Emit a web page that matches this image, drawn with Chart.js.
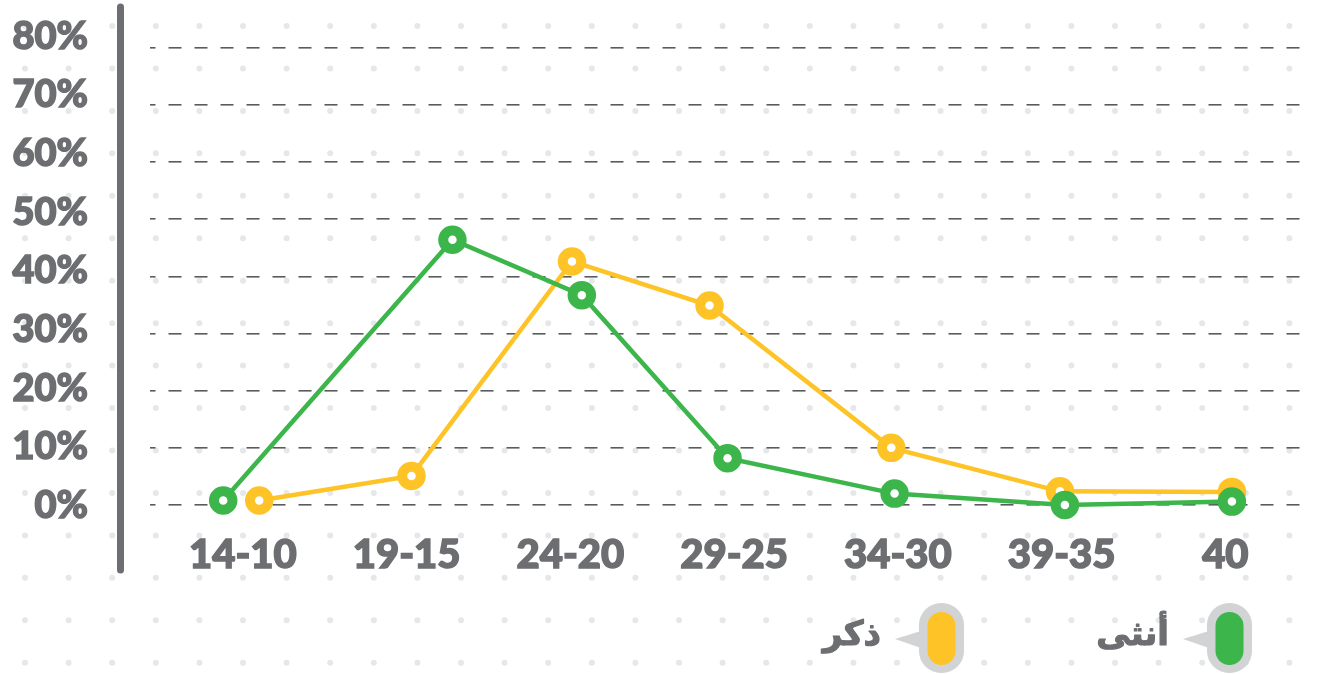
<!DOCTYPE html>
<html>
<head>
<meta charset="utf-8">
<script src="https://cdn.jsdelivr.net/npm/chart.js@4"></script>
<style>
  body { margin: 0; background: #fff; }
</style>
</head>
<body>
<canvas id="ageChart" width="1322" height="675"></canvas>
<script>
// age groups (as printed, right-to-left order of the source)
const categories = ['14-10', '19-15', '24-20', '29-25', '34-30', '39-35', '40'];
const yTicks = [0, 10, 20, 30, 40, 50, 60, 70, 80];

// female (green) - position along the age axis and share in %
const femaleX = [-0.12, 1.28, 2.07, 2.96, 3.98, 5.02, 6.04];
const femaleY = [0.8, 46.4, 36.7, 8.2, 2.0, 0.0, 0.6];

// male (yellow)
const maleX = [0.10, 1.03, 2.01, 2.85, 3.96, 4.99, 6.04];
const maleY = [0.8, 5.1, 42.6, 34.9, 10.0, 2.4, 2.3];

const GREEN = '#3cb54a';
const YELLOW = '#fec327';
const GREY = '#6d6e71';
const FONT = "Lato, 'DejaVu Sans', sans-serif";

const toPoints = (xs, ys) => xs.map((x, i) => ({ x: x, y: ys[i] }));

// dotted paper background + thick left axis bar
const backdrop = {
    id: 'backdrop',
    beforeDraw(chart) {
        const ctx = chart.ctx;
        ctx.save();
        ctx.fillStyle = '#fff';
        ctx.fillRect(0, 0, chart.width, chart.height);
        ctx.fillStyle = '#e6e7e8';
        for (let x = 25; x < chart.width; x += 43.6) {
            for (let y = 26; y < chart.height; y += 42.45) {
                ctx.beginPath();
                ctx.arc(x, y, 3, 0, Math.PI * 2);
                ctx.fill();
            }
        }
        ctx.strokeStyle = GREY;
        ctx.lineWidth = 7;
        ctx.lineCap = 'round';
        ctx.beginPath();
        ctx.moveTo(120.5, 7);
        ctx.lineTo(120.5, 570);
        ctx.stroke();
        ctx.restore();
    }
};

function roundRect(ctx, x, y, w, h, r) {
    ctx.beginPath();
    ctx.moveTo(x + r, y);
    ctx.arcTo(x + w, y, x + w, y + h, r);
    ctx.arcTo(x + w, y + h, x, y + h, r);
    ctx.arcTo(x, y + h, x, y, r);
    ctx.arcTo(x, y, x + w, y, r);
    ctx.closePath();
}

// pill-shaped legend with a little speech pointer, right to left
const pillLegend = {
    id: 'pillLegend',
    afterDraw(chart) {
        const ctx = chart.ctx;
        const slots = [1207, 919];
        ctx.save();
        chart.data.datasets.forEach((ds, i) => {
            const left = slots[i];
            const top = 603;
            ctx.fillStyle = '#d1d3d4';
            roundRect(ctx, left, top, 45, 70, 22);
            ctx.fill();
            ctx.beginPath();
            ctx.moveTo(left + 2, 631);
            ctx.lineTo(left - 24, 639);
            ctx.lineTo(left + 2, 648);
            ctx.closePath();
            ctx.fill();
            ctx.fillStyle = ds.borderColor;
            roundRect(ctx, left + 8.5, top + 9, 28, 53, 14);
            ctx.fill();

            ctx.fillStyle = GREY;
            ctx.strokeStyle = GREY;
            ctx.lineWidth = 1.2;
            ctx.lineJoin = 'round';
            ctx.font = 'bold 34px ' + FONT;
            ctx.textAlign = 'right';
            ctx.textBaseline = 'middle';
            ctx.strokeText(ds.label, left - 38, 634);
            ctx.fillText(ds.label, left - 38, 634);
        });
        ctx.restore();
    }
};

new Chart(document.getElementById('ageChart'), {
    type: 'line',
    data: {
        datasets: [{
            label: 'أنثى',
            data: toPoints(femaleX, femaleY),
            borderColor: GREEN,
            pointBorderColor: GREEN,
            yAxisID: 'y'
        }, {
            label: 'ذكر',
            data: toPoints(maleX, maleY),
            borderColor: YELLOW,
            pointBorderColor: YELLOW,
            yAxisID: 'y'
        }]
    },
    options: {
        responsive: false,
        animation: false,
        devicePixelRatio: 1,
        layout: {
            autoPadding: false,
            padding: { top: 10, right: 11, left: 0, bottom: 0 }
        },
        elements: {
            line: { borderWidth: 4.5, tension: 0 },
            point: {
                radius: 9.25,
                borderWidth: 10,
                backgroundColor: '#fff',
                hoverRadius: 9.25
            }
        },
        plugins: {
            legend: { display: false },
            tooltip: { enabled: false }
        },
        events: [],
        scales: {
            x: {
                type: 'linear',
                min: -0.567,
                max: 6.523,
                afterBuildTicks: (scale) => {
                    scale.ticks = categories.map((c, i) => ({ value: i }));
                },
                afterFit: (scale) => {
                    scale.height = 145;
                    scale.paddingLeft = 0;
                    scale.paddingRight = 0;
                },
                grid: { display: false, drawTicks: false },
                border: { display: false },
                ticks: {
                    autoSkip: false,
                    maxRotation: 0,
                    padding: 1,
                    color: GREY,
                    textStrokeColor: GREY,
                    textStrokeWidth: 1.5,
                    font: { family: FONT, size: 40, weight: '900' },
                    callback: (v) => categories[v]
                }
            },
            yl: {
                type: 'linear',
                position: 'left',
                weight: 1,
                min: -4.179,
                max: 84.52,
                afterBuildTicks: (scale) => {
                    scale.ticks = yTicks.map(v => ({ value: v }));
                },
                afterFit: (scale) => {
                    scale.width = 150;
                    scale.paddingTop = 0;
                    scale.paddingBottom = 0;
                },
                grid: { display: false, drawTicks: false },
                border: { display: false },
                ticks: {
                    padding: 62,
                    color: GREY,
                    textStrokeColor: GREY,
                    textStrokeWidth: 1.5,
                    font: { family: FONT, size: 38, weight: '900' },
                    callback: (v) => v + '%'
                }
            },
            y: {
                type: 'linear',
                position: 'left',
                weight: 0,
                min: -4.365,
                max: 86.58,
                afterBuildTicks: (scale) => {
                    scale.ticks = yTicks.map(v => ({ value: v }));
                },
                afterFit: (scale) => {
                    scale.width = 0;
                    scale.paddingTop = 0;
                    scale.paddingBottom = 0;
                },
                grid: {
                    color: '#5a5b5e',
                    lineWidth: 1.6,
                    drawTicks: false
                },
                border: { display: false, dash: [13, 13], dashOffset: 7.5 },
                ticks: { display: false }
            }
        }
    },
    plugins: [backdrop, pillLegend]
});
</script>
</body>
</html>
